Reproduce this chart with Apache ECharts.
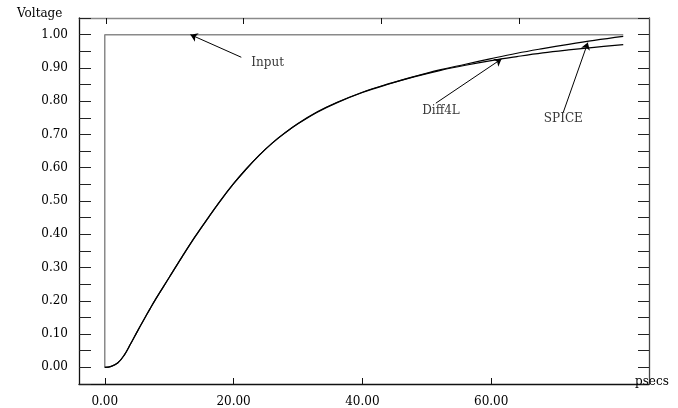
<!DOCTYPE html>
<html><head><meta charset="utf-8">
<script src="https://cdn.jsdelivr.net/npm/echarts@6/dist/echarts.min.js"></script>
<style>html,body{margin:0;padding:0;background:#fff}#c{width:678px;height:408px}</style>
</head><body><div id="c"></div>
<script>
// ---- data ----
const timePs = [0,1,2,3,4,5,6,7,8,10,12,14,16,18,20,22,24,26,28,30,33,36,40,44,48,52,56,60,64,68,72,76,80.5];
const diff4L = [0,0.003,0.013,0.036,0.07,0.106,0.141,0.175,0.208,0.27,0.332,0.392,0.448,0.502,0.552,0.597,0.638,0.674,0.705,0.732,0.767,0.795,0.826,0.851,0.873,0.892,0.908,0.922,0.934,0.945,0.954,0.962,0.970];
const spice  = [0,0.003,0.013,0.036,0.07,0.106,0.141,0.175,0.208,0.27,0.332,0.392,0.448,0.502,0.552,0.597,0.638,0.674,0.705,0.733,0.768,0.796,0.827,0.852,0.874,0.894,0.911,0.928,0.944,0.958,0.971,0.983,0.995];
const inputX = [0, 0, 80.5];
const inputV = [0, 1, 1];
const xTickValues = [0, 20, 40, 60];
const labelNames = ['Input', 'Diff4L', 'SPICE'];
const labelPos = [[25.3, 0.916], [52.2, 0.772], [71.2, 0.746]];
const arrowFrom = [[21.2, 0.932], [51.4, 0.794], [71.2, 0.767]];
const arrowTo = [[13.3, 1.0], [61.6, 0.927], [75.0, 0.976]];

const FONT = 'DejaVu Serif';
const zip = (xs, ys) => xs.map((x, i) => [x, ys[i]]);

const chart = echarts.init(document.getElementById('c'), null, {renderer: 'canvas'});
chart.setOption({
  animation: false,
  backgroundColor: '#fff',
  title: [
    {text: 'Voltage', left: 12, top: 3, textStyle: {fontFamily: FONT, fontSize: 12, fontWeight: 'normal', color: '#000'}},
    {text: 'psecs', left: 630, top: 371, textStyle: {fontFamily: FONT, fontSize: 12, fontWeight: 'normal', color: '#000'}}
  ],
  grid: {left: 79, right: 29, top: 18, bottom: 24},
  xAxis: [
    {
      type: 'value', position: 'bottom', min: -4, max: 84.5,
      axisLine: {show: true, onZero: false, lineStyle: {color: '#111', width: 1.3}},
      axisTick: {show: true, inside: true, length: 6, customValues: xTickValues, lineStyle: {color: '#111'}},
      axisLabel: {show: true, customValues: xTickValues, margin: 12, formatter: v => v.toFixed(2),
        fontFamily: FONT, fontSize: 12, color: '#000'},
      splitLine: {show: false}
    },
    {
      type: 'value', position: 'top', min: -3.92, max: 78.87,
      axisLine: {show: true, onZero: false, lineStyle: {color: '#8a8a8a', width: 1.3}},
      axisTick: {show: true, inside: true, length: 6, customValues: xTickValues, lineStyle: {color: '#111'}},
      axisLabel: {show: false},
      splitLine: {show: false}
    }
  ],
  yAxis: [
    {
      type: 'value', position: 'left', min: -0.05, max: 1.05, interval: 0.05,
      axisLine: {show: true, onZero: false, lineStyle: {color: '#111', width: 1.3}},
      axisTick: {show: true, inside: true, length: 12, lineStyle: {color: '#222'}},
      axisLabel: {show: true, margin: 11, fontFamily: FONT, fontSize: 12, color: '#000',
        formatter: v => { const k = Math.round(v * 100); return (k % 10 === 0 && k >= 0 && k <= 100) ? (k / 100).toFixed(2) : ''; }},
      splitLine: {show: false}
    },
    {
      type: 'value', position: 'right', min: -0.05, max: 1.05, interval: 0.05,
      axisLine: {show: true, onZero: false, lineStyle: {color: '#444', width: 1.3}},
      axisTick: {show: true, inside: true, length: 11, lineStyle: {color: '#222'}},
      axisLabel: {show: false},
      splitLine: {show: false}
    }
  ],
  series: [
    {
      name: 'Input', type: 'line', data: zip(inputX, inputV), showSymbol: false, symbol: 'none',
      lineStyle: {color: '#8a8a8a', width: 1.5}, z: 2
    },
    {
      name: 'Diff4L', type: 'line', data: zip(timePs, diff4L), symbol: 'none', smooth: 0.4,
      lineStyle: {color: '#000', width: 1.2}, z: 3
    },
    {
      name: 'SPICE', type: 'line', data: zip(timePs, spice), symbol: 'none', smooth: 0.4,
      lineStyle: {color: '#000', width: 1.2}, z: 3
    },
    {
      name: 'labels', type: 'scatter', symbolSize: 0, silent: true,
      data: labelPos.map((p, i) => ({value: p, name: labelNames[i]})),
      label: {show: true, position: 'inside', formatter: p => p.name, fontFamily: FONT, fontSize: 12, color: '#000'},
      markLine: {
        silent: true, symbol: ['none', 'arrow'], symbolSize: 7, precision: 3,
        label: {show: false},
        lineStyle: {color: '#000', width: 1, type: 'solid'},
        data: arrowFrom.map((f, i) => [{coord: f}, {coord: arrowTo[i]}])
      },
      z: 4
    }
  ]
});
</script>
</body></html>
